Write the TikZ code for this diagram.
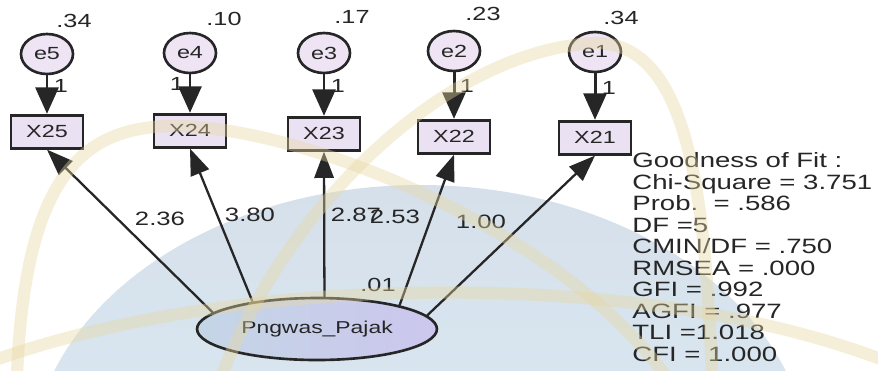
\documentclass[tikz,border=0pt]{standalone}
\usepackage{fontspec}
\setmainfont{Liberation Sans}[FakeStretch=1.33]
\usetikzlibrary{shapes.geometric,arrows.meta,positioning}
\definecolor{AmosInk}{HTML}{262626}
\definecolor{BoxFill}{HTML}{EAE2F2}
\definecolor{ErrFill}{HTML}{EEE4F4}
\definecolor{LatentLeft}{HTML}{C4D6E6}
\definecolor{LatentRight}{HTML}{CCC6EE}
\definecolor{DomeTop}{HTML}{D6E0EB}
\definecolor{DomeBottom}{HTML}{DCEFF7}
\definecolor{Watermark}{HTML}{E8D8A0}

\begin{document}
\begin{tikzpicture}[x=0.02cm,y=-0.02cm,
  errvar/.style={ellipse,draw=AmosInk,line width=1.5pt,fill=ErrFill,minimum width=1.04cm,minimum height=0.80cm,inner sep=0pt,text=AmosInk,font=\fontsize{10}{12}\selectfont},
  obsvar/.style={rectangle,draw=AmosInk,line width=1.6pt,fill=BoxFill,minimum width=1.44cm,minimum height=0.66cm,inner sep=0pt,text=AmosInk,font=\fontsize{10}{12}\selectfont},
  latvar/.style={ellipse,draw=AmosInk,line width=1.5pt,left color=LatentLeft,right color=LatentRight,minimum width=4.8cm,minimum height=1.24cm,inner sep=0pt,text=AmosInk,font=\fontsize{9.8}{12}\selectfont},
  estim/.style={inner sep=0pt,text=AmosInk,font=\fontsize{10.8}{12}\selectfont},
  loadest/.style={inner sep=0pt,text=AmosInk,font=\fontsize{11}{13}\selectfont},
  errarrow/.style={draw=AmosInk,line width=1.7pt,-{Triangle[length=15pt,width=13pt]}},
  loadarrow/.style={draw=AmosInk,line width=1.3pt,-{Triangle[length=15pt,width=11pt]}},
  wmark/.style={draw=Watermark,line width=7pt,opacity=0.4,line cap=round}]
  \useasboundingbox (0,0) rectangle (878,370);
  \fill[white] (0,0) rectangle (878,370);
  % background dome
  \begin{scope}
    \clip (0,0) rectangle (878,370);
    \shade[top color=DomeTop,bottom color=DomeBottom] (420,470) ellipse [x radius=390,y radius=285];
  \end{scope}

  % error terms
  \node[errvar] (e5) at (47,54) {e5};
  \node[errvar] (e4) at (190,53) {e4};
  \node[errvar] (e3) at (324,53) {e3};
  \node[errvar] (e2) at (454,51) {e2};
  \node[errvar] (e1) at (595,52) {e1};

  % indicators
  \node[obsvar,below=0.77cm of e5] (x25) {X25};
  \node[obsvar,below=0.77cm of e4] (x24) {X24};
  \node[obsvar,below=0.83cm of e3] (x23) {X23};
  \node[obsvar,below=0.93cm of e2] (x22) {X22};
  \node[obsvar,below=0.93cm of e1] (x21) {X21};

  % latent
  \node[latvar] (pp) at (317,329) {Pngwas\_Pajak};

  \draw[errarrow] (e5) -- (x25);
  \draw[errarrow] (e4) -- (x24);
  \draw[errarrow] (e3) -- (x23);
  \draw[errarrow] (e2) -- (x22);
  \draw[errarrow] (e1) -- (x21);

  \draw[loadarrow] (pp.171.5) -- (x25.south);
  \draw[loadarrow] (pp.157.4) -- (x24.south);
  \draw[loadarrow] (pp.77) -- (x23.south);
  \draw[loadarrow] (pp.16.7) -- (x22.south);
  \draw[loadarrow] (pp.7.2) -- (x21.south);

  % variances
  \node[estim] (v5) at (74,21) {.34};
  \node[estim] (v4) at (224,19) {.10};
  \node[estim] (v3) at (352,17) {.17};
  \node[estim] (v2) at (483,14) {.23};
  \node[estim] (v1) at (621,18) {.34};
  \node[estim] (vpp) at (378,285) {.01};

  % fixed paths
  \node[estim] (u5) at (61,86) {1};
  \node[estim] (u4) at (177,84) {1};
  \node[estim] (u3) at (338,86) {1};
  \node[estim] (u2) at (467,86) {1};
  \node[estim] (u1) at (609,88) {1};

  % loadings
  \node[loadest] (l25) at (160,219) {2.36};
  \node[loadest] (l24) at (250,215) {3.80};
  \node[loadest] (l23) at (356,215) {2.87};
  \node[loadest] (l22) at (395,217) {2.53};
  \node[loadest] (l21) at (481,222) {1.00};

  % fit summary
  \node[anchor=west,align=left,inner sep=0pt,text=AmosInk,font=\fontsize{11.8}{12.25}\selectfont] (gof) at (632,257)
    {Goodness of Fit :\\Chi-Square = 3.751\\Prob.\ \ = .586\\DF =5\\CMIN/DF = .750\\RMSEA = .000\\GFI = .992\\AGFI = .977\\TLI =1.018\\CFI = 1.000};

  % watermark arcs
  \begin{scope}
    \clip (0,0) rectangle (878,370);
    \draw[wmark] (17,375) .. controls (25,180) and (80,128) .. (170,126) .. controls (300,124) and (560,230) .. (665,375);
    \draw[wmark] (222,375) .. controls (290,200) and (450,50) .. (595,43) .. controls (690,42) and (705,200) .. (712,375);
    \draw[wmark] (-5,360) .. controls (250,270) and (650,270) .. (883,360);
  \end{scope}
\end{tikzpicture}
\end{document}
